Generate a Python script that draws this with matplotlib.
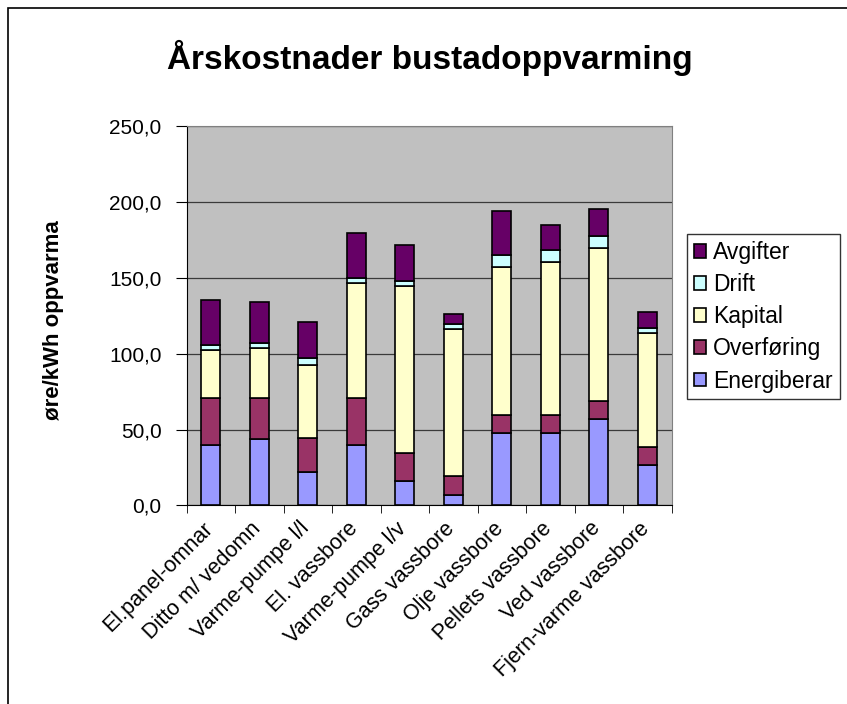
import numpy as np
import matplotlib.pyplot as plt
from matplotlib.patches import Rectangle
from matplotlib.transforms import ScaledTranslation

plt.rcParams['font.family'] = ['Liberation Sans', 'DejaVu Sans']

categories = ["El.panel-omnar", "Ditto m/ vedomn", "Varme-pumpe l/l", "El. vassbore",
              "Varme-pumpe l/v", "Gass vassbore", "Olje vassbore", "Pellets vassbore",
              "Ved vassbore", "Fjern-varme vassbore"]
energiberar = [40.0, 43.6, 22.0, 40.0, 15.9, 6.9, 48.0, 48.0, 57.0, 26.5]
overforing = [31.0, 27.4, 22.4, 31.0, 18.9, 12.5, 11.8, 11.8, 11.8, 11.8]
kapital = [31.5, 32.6, 48.3, 75.4, 109.8, 96.7, 97.5, 100.8, 100.8, 75.1]
drift = [3.5, 3.6, 4.4, 3.5, 3.5, 3.5, 7.5, 7.9, 7.7, 3.5]
avgifter = [29.5, 26.7, 24.1, 29.4, 23.3, 6.4, 29.0, 16.3, 18.2, 10.6]

series = [("Energiberar", energiberar, "#9999FF"),
          ("Overføring", overforing, "#993366"),
          ("Kapital", kapital, "#FFFFCC"),
          ("Drift", drift, "#CCFFFF"),
          ("Avgifter", avgifter, "#660066")]

fig = plt.figure(figsize=(8.47, 7.04), dpi=100)
fig.patches.append(Rectangle((8 / 847, -0.1), 2, 1 - 8 / 704 + 0.1, transform=fig.transFigure,
                             fill=False, ec='black', lw=1.2))

ax = fig.add_axes([0.2204, 0.282, 0.5726, 0.539])
ax.set_facecolor('#C0C0C0')

x = np.arange(len(categories))
bottom = np.zeros(len(categories))
handles = []
for name, vals, col in series:
    b = ax.bar(x, vals, 0.39, bottom=bottom, color=col, edgecolor='black', linewidth=1.2,
               label=name, zorder=3)
    handles.append(b)
    bottom += np.array(vals)

ax.set_xlim(-0.5, len(categories) - 0.5)
ax.set_ylim(0, 250)
ax.set_yticks(np.arange(0, 251, 50))
ax.set_yticklabels([f"{v:.1f}".replace('.', ',') for v in np.arange(0, 251, 50)], fontsize=15)
ax.yaxis.grid(True, color='#3a3a3a', lw=0.9, zorder=1)

ax.set_xticks(x)
ax.set_xticklabels(categories, rotation=45, ha='right', va='top', rotation_mode='anchor', fontsize=15.5)
ax.tick_params(axis='x', length=0, pad=9)
shift = ScaledTranslation(-9 / 100, 0, fig.dpi_scale_trans)
for lbl in ax.get_xticklabels():
    lbl.set_transform(lbl.get_transform() + shift)
ax.set_xticks(np.arange(-0.5, len(categories)), minor=True)
ax.tick_params(axis='x', which='minor', length=6, direction='out', color='black')
ax.tick_params(axis='y', length=8, direction='out', color='black', pad=10)

for side in ['top', 'right']:
    ax.spines[side].set_color('#808080')
ax.spines['left'].set_color('black')
ax.spines['bottom'].set_color('black')

fig.text(53 / 847, 1 - 320 / 704, "øre/kWh oppvarma", fontsize=16, fontweight='bold',
         rotation=90, ha='center', va='center')

fig.text(430 / 847, 1 - 58 / 704, "Årskostnader bustadoppvarming", fontsize=24,
         fontweight='bold', ha='center', va='center')

leg = fig.legend(handles[::-1], [s[0] for s in series][::-1], loc='upper left',
                 bbox_to_anchor=(687 / 847, 1 - 234 / 704), fontsize=16.5, frameon=True,
                 fancybox=False, edgecolor='black', handlelength=0.55, handleheight=0.55,
                 handletextpad=0.3, labelspacing=0.4, borderpad=0.3, borderaxespad=0)
leg.get_frame().set_linewidth(1.0)

fig.savefig("out.png", dpi=100)
